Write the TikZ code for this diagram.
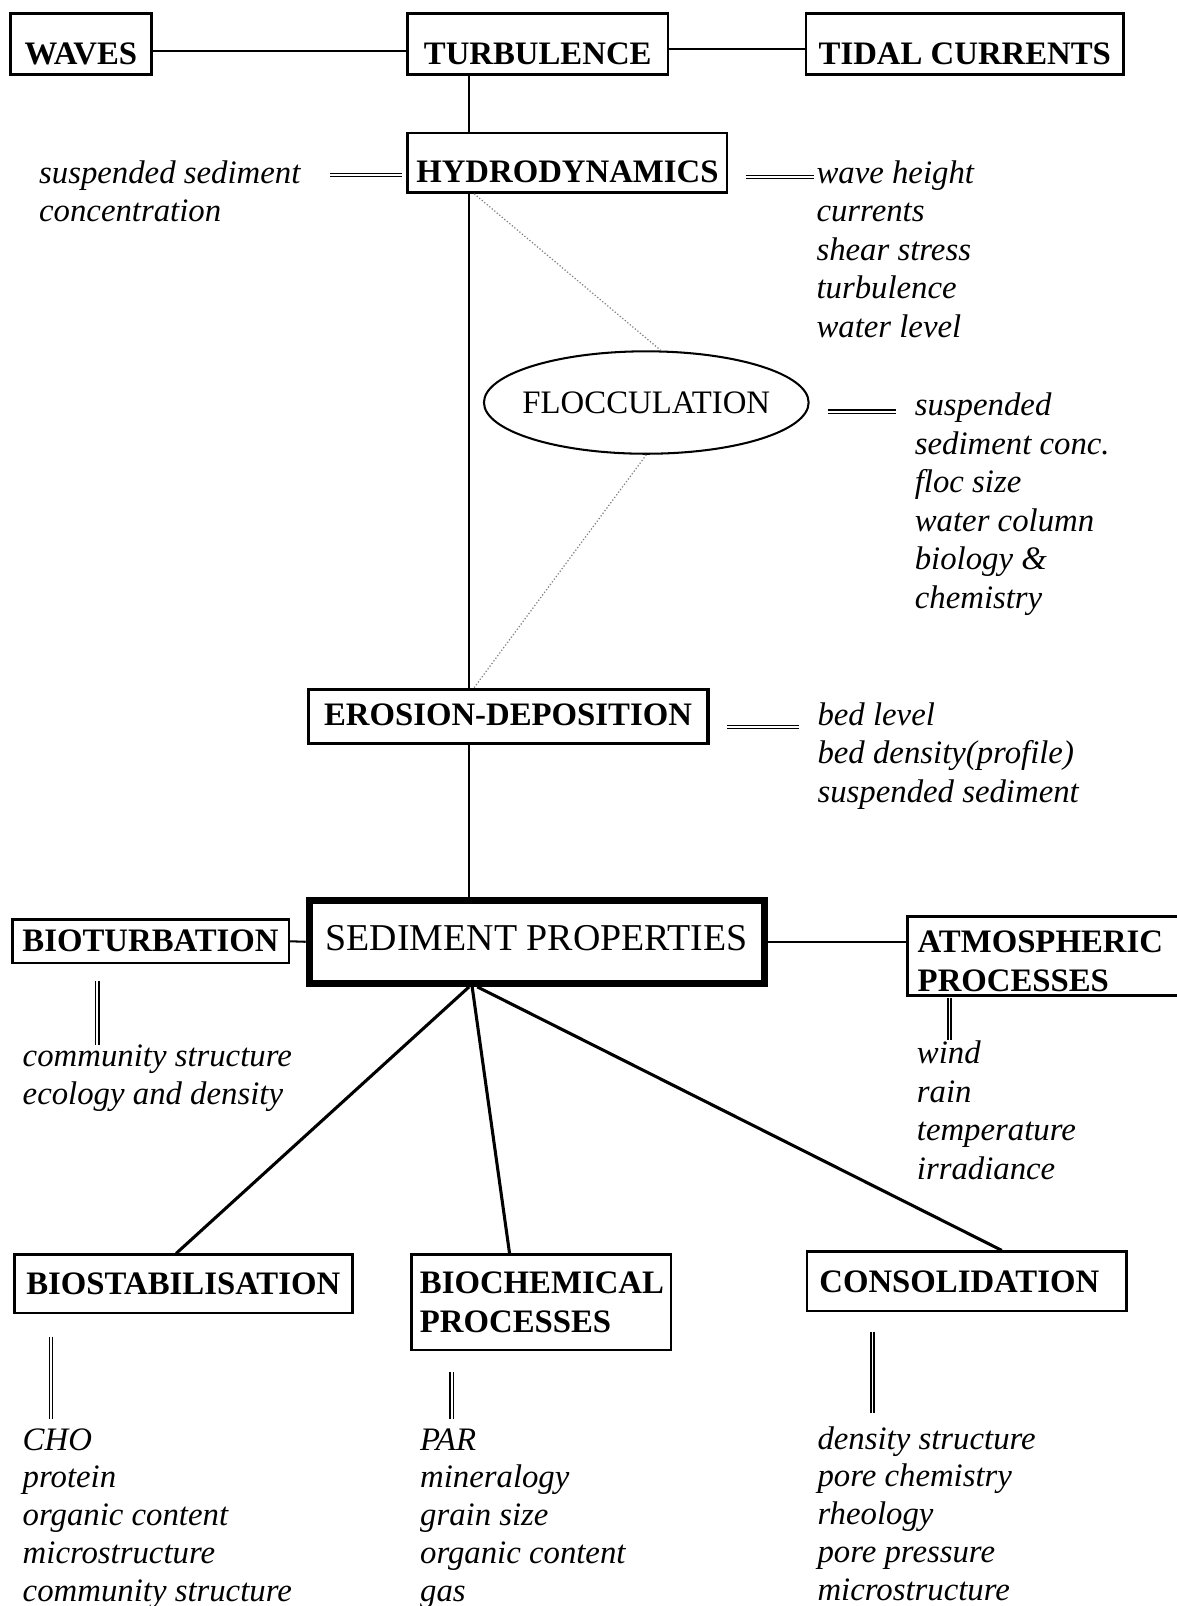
\documentclass[tikz,border=0pt]{standalone}
\usepackage{fontspec}
\setmainfont{Liberation Serif}
\usetikzlibrary{shapes.geometric}
\begin{document}
\begin{tikzpicture}[x=1pt,y=-1pt,
  box/.style={draw, line width=2.5pt, inner sep=0pt, font=\fontsize{32}{38}\selectfont\bfseries},
  lowtext/.style={text height=39pt, text depth=0pt},
  lbox/.style={box, align=left, inner xsep=10pt},
  lst/.style={anchor=north west, inner sep=0pt, align=left, font=\fontsize{32}{37.6}\selectfont\itshape},
  lstb/.style={lst, font=\fontsize{32}{36.8}\selectfont\itshape},
  conn/.style={line width=2pt},
  dbl/.style={double, double distance=1.6pt, line width=1.4pt},
  dotl/.style={gray, dotted, line width=1.2pt},
  spoke/.style={line width=3pt}]
\useasboundingbox (0,0) rectangle (1149,1568);
\clip (0,0) rectangle (1149,1568);
\fill[white] (0,0) rectangle (1149,1568);

% boxes
\node[box, lowtext, minimum width=138pt, minimum height=60pt] (waves) at (79,43) {WAVES};
\node[box, lowtext, minimum width=254pt, minimum height=60pt] (turb) at (525,43) {TURBULENCE};
\node[box, lowtext, minimum width=310pt, minimum height=60pt] (tidal) at (942,43) {TIDAL CURRENTS};
\node[box, lowtext, minimum width=312pt, minimum height=58pt] (hydro) at (554,159) {HYDRODYNAMICS};
\node[draw, ellipse, line width=2pt, minimum width=317pt, minimum height=100pt, inner xsep=-10pt, inner ysep=0pt, font=\fontsize{32}{38}\selectfont] (floc) at (631,393) {FLOCCULATION};
\node[box, line width=3.5pt, text depth=4pt, minimum width=390pt, minimum height=53pt] (ero) at (496,699.5) {EROSION-DEPOSITION};
\node[box, line width=7pt, text depth=8pt, minimum width=444pt, minimum height=81pt, font=\fontsize{37}{40}\selectfont] (sed) at (524,919.5) {SEDIMENT PROPERTIES};
\node[box, minimum width=270pt, minimum height=42pt] (biot) at (147,919) {BIOTURBATION};
\node[lbox, text width=254pt, minimum height=77pt] (atmos) at (1023,933.5) {\rule{0pt}{31pt}ATMOSPHERIC\\PROCESSES};
\node[box, minimum width=330pt, minimum height=57pt] (biostab) at (179,1253.5) {BIOSTABILISATION};
\node[lbox, inner xsep=8pt, text width=237pt, minimum height=93pt] (biochem) at (528.5,1271.5) {BIOCHEMICAL\\PROCESSES};
\node[lbox, inner xsep=12pt, text width=288pt, minimum height=58pt] (consol) at (944,1251) {CONSOLIDATION};

% lists
\node[lst] (lssc) at (38,152.5) {\strut suspended sediment\\concentration};
\node[lst] (lhydro) at (797,152.5) {\strut wave height\\currents\\shear stress\\turbulence\\water level};
\node[lst] (lfloc) at (893,379.5) {\strut suspended\\sediment conc.\\floc size\\water column\\biology \&\\chemistry};
\node[lst] (lero) at (798,681.5) {\strut bed level\\bed density(profile)\\suspended sediment};
\node[lst] (lbiot) at (22,1014.5) {\strut community structure\\ecology and density};
\node[lst] (latmos) at (895,1012) {\strut wind\\rain\\temperature\\irradiance};
\node[lstb] (lbiostab) at (22,1390) {\strut CHO\\protein\\organic content\\microstructure\\community structure};
\node[lstb] (lbiochem) at (410,1390) {\strut PAR\\mineralogy\\grain size\\organic content\\gas};
\node[lstb] (lconsol) at (798,1389) {\strut density structure\\pore chemistry\\rheology\\pore pressure\\microstructure};

% helper x positions
\coordinate (sx) at (458,0);
\coordinate (sx2) at (461,0);
\coordinate (sx3) at (466,0);
\coordinate (dx) at (463,0);

% connectors
\draw[conn] ([yshift=-7pt]waves.east) -- ([yshift=-7pt]turb.west);
\draw[conn] ([yshift=-5pt]turb.east) -- ([yshift=-5pt]tidal.west);
\draw[conn] (turb.south -| sx) -- (hydro.north -| sx);
\draw[conn] (hydro.south -| sx) -- (ero.north -| sx);
\draw[conn] (ero.south -| sx) -- (sed.north -| sx);
\draw[dotl] (hydro.south -| dx) -- ([xshift=14pt]floc.north);
\draw[dotl] (floc.south) -- (ero.north -| dx);
\draw[conn] (biot.east) -- (sed.west);
\draw[conn] (sed.east) -- (sed.east -| atmos.west);
\draw[spoke] (sed.south -| sx) -- ([xshift=-7pt]biostab.north);
\draw[spoke] (sed.south -| sx2) -- ([xshift=-31pt]biochem.north);
\draw[spoke] (sed.south -| sx3) -- ([xshift=34pt]consol.north);

% double-line links
\coordinate (h1a) at (322,171); \coordinate (h1b) at (392,171);
\coordinate (h2a) at (728,173); \coordinate (h2b) at (795,173);
\coordinate (f1a) at (808,402); \coordinate (f1b) at (875,402);
\coordinate (e1a) at (710,710); \coordinate (e1b) at (780,710);
\coordinate (v1a) at (95,958);  \coordinate (v1b) at (95,1020);
\coordinate (v2a) at (927,974); \coordinate (v2b) at (927,1015);
\coordinate (v3a) at (50,1305); \coordinate (v3b) at (50,1385);
\coordinate (v4a) at (441,1340); \coordinate (v4b) at (441,1385);
\coordinate (v5a) at (852,1300); \coordinate (v5b) at (852,1380);
\draw[dbl] (h1a) -- (h1b);
\draw[dbl] (h2a) -- (h2b);
\draw[dbl] (f1a) -- (f1b);
\draw[dbl] (e1a) -- (e1b);
\draw[dbl] (v1a) -- (v1b);
\draw[dbl] (v2a) -- (v2b);
\draw[dbl] (v3a) -- (v3b);
\draw[dbl] (v4a) -- (v4b);
\draw[dbl] (v5a) -- (v5b);
\end{tikzpicture}
\end{document}
